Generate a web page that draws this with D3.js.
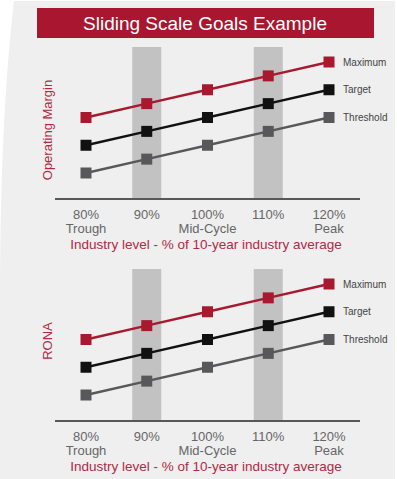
<!DOCTYPE html>
<html>
<head>
<meta charset="utf-8">
<script src="https://cdn.jsdelivr.net/npm/d3@7"></script>
<style>
  html,body{margin:0;padding:0;background:#fff;}
  svg{display:block;font-family:"Liberation Sans",Arial,sans-serif;}
</style>
</head>
<body>
<svg id="chart" width="397" height="479"></svg>
<script>
// data
const categories = ['80%','90%','100%','110%','120%'];
const subLabels = ['Trough','','Mid-Cycle','','Peak'];
const shaded = ['90%','110%'];
const seriesNames = ['Maximum','Target','Threshold'];
const maximumVals = [5,6,7,8,9];
const targetVals = [3,4,5,6,7];
const thresholdVals = [1,2,3,4,5];
const panelTitles = ['Operating Margin','RONA'];
const xTitle = 'Industry level - % of 10-year industry average';
const chartTitle = 'Sliding Scale Goals Example';

const seriesColors = {Maximum:'#a8192f',Target:'#111111',Threshold:'#58585a'};
const seriesVals = {Maximum:maximumVals,Target:targetVals,Threshold:thresholdVals};

const svg = d3.select('#chart');

// background card
svg.append('path')
  .attr('d','M14,1 L395,1 L395,479 L0,479 L0,300 Q0,120 14,1 Z')
  .attr('fill','#efefef');

// banner
svg.append('rect').attr('x',37).attr('y',8).attr('width',337).attr('height',30).attr('fill','#a8172f');
svg.append('text').attr('x',205).attr('y',30).attr('text-anchor','middle')
  .attr('fill','#fff').attr('font-size',19).text(chartTitle);

const x = d3.scalePoint().domain(categories).range([86,329]);
const bandW = 29;

function drawPanel(offY, yLabel){
  const g = svg.append('g').attr('transform',`translate(0,${offY})`);
  const y = d3.scaleLinear().domain([1,9]).range([173,62]);
  const axisY = 199;

  g.selectAll('rect.band').data(shaded).enter().append('rect')
    .attr('class','band')
    .attr('x',d=>x(d)-bandW/2).attr('y',47)
    .attr('width',bandW).attr('height',axisY-47)
    .attr('fill','#c2c2c2');

  g.append('line').attr('x1',55).attr('x2',360).attr('y1',axisY).attr('y2',axisY)
    .attr('stroke','#58585a').attr('stroke-width',2);

  // tick labels
  const ticks = g.selectAll('g.tk').data(categories).enter().append('g')
    .attr('class','tk').attr('transform',d=>`translate(${x(d)},0)`);
  ticks.append('text').attr('y',219).attr('text-anchor','middle')
    .attr('font-size',13).attr('fill','#666').text(d=>d);
  ticks.append('text').attr('y',233).attr('text-anchor','middle')
    .attr('font-size',13).attr('fill','#666').text((d,i)=>subLabels[i]);

  g.append('text').attr('x',206).attr('y',249).attr('text-anchor','middle')
    .attr('font-size',13.5).attr('fill','#b02a45').text(xTitle);

  g.append('text').attr('transform',`translate(52,${offY===0?130:119}) rotate(-90)`)
    .attr('text-anchor','middle').attr('font-size',13).attr('fill','#b02a45').text(yLabel);

  const line = d3.line().x((d,i)=>x(categories[i])).y(d=>y(d));
  seriesNames.forEach(name=>{
    const vals = seriesVals[name];
    g.append('path').attr('d',line(vals)).attr('fill','none')
      .attr('stroke',seriesColors[name]).attr('stroke-width',2.5);
    g.selectAll(null).data(vals).enter().append('rect')
      .attr('x',(d,i)=>x(categories[i])-5.5).attr('y',d=>y(d)-5.5)
      .attr('width',11).attr('height',11).attr('fill',seriesColors[name]);
    g.append('text').attr('x',343).attr('y',y(vals[vals.length-1]))
      .attr('dy','0.35em').attr('font-size',10).attr('fill','#444').text(name);
  });
}

drawPanel(0, panelTitles[0]);
drawPanel(222, panelTitles[1]);
</script>
</body>
</html>
